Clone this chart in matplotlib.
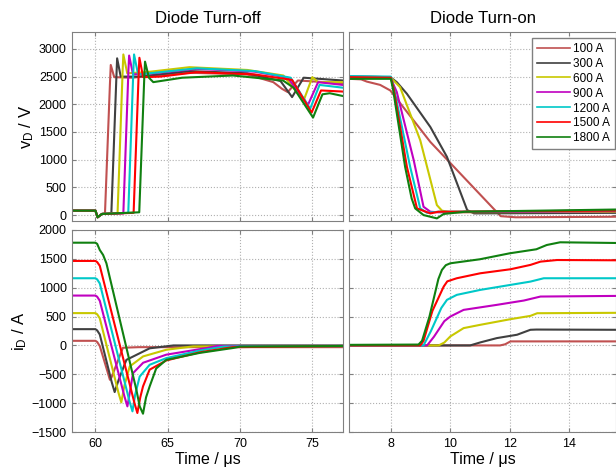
import matplotlib
matplotlib.use('Agg')
import matplotlib.pyplot as plt

'''Diode turn-off / turn-on waveforms for several load currents'''

plt.rcParams['font.family'] = ['Liberation Sans', 'DejaVu Sans']
plt.rcParams['mathtext.fontset'] = 'custom'
plt.rcParams['mathtext.rm'] = 'Liberation Sans'
plt.rcParams['mathtext.default'] = 'rm'

labels = ['100 A', '300 A', '600 A', '900 A', '1200 A', '1500 A', '1800 A']
colors = ['#c05050', '#404040', '#c8c800', '#c000c0', '#00c8c8', '#ff0000', '#108010']

# ---- turn-off, diode voltage (us, V)
voff_t = [
    [58.4, 60.0, 60.15, 60.45, 60.66, 61.0, 61.06, 61.3, 62.5, 66.5, 70.5, 72.3, 72.9, 73.3, 74.0, 77.1],
    [58.4, 60.0, 60.15, 60.45, 61.1, 61.45, 61.5, 61.75, 63.0, 66.5, 70.5, 72.8, 73.6, 74.4, 77.1],
    [58.4, 60.0, 60.15, 60.45, 61.53, 61.88, 61.93, 62.2, 63.5, 66.5, 70.5, 73.0, 74.4, 75.0, 75.4, 77.1],
    [58.4, 60.0, 60.15, 60.45, 61.93, 62.28, 62.33, 62.6, 64.0, 67.0, 71.0, 73.3, 74.7, 75.4, 77.1],
    [58.4, 60.0, 60.15, 60.45, 62.27, 62.62, 62.67, 62.95, 64.5, 67.0, 71.0, 73.5, 74.85, 75.5, 77.1],
    [58.4, 60.0, 60.15, 60.45, 62.64, 62.99, 63.04, 63.3, 64.5, 67.0, 71.0, 73.6, 74.95, 75.6, 77.1],
    [58.4, 60.0, 60.15, 60.45, 63.03, 63.38, 63.43, 63.7, 64.0, 66.0, 69.5, 72.97, 73.7, 75.05, 75.7, 76.2, 77.1],
]
voff_v = [
    [80, 80, -40, 20, 30, 2350, 2710, 2490, 2480, 2570, 2540, 2400, 2280, 2220, 2430, 2380],
    [80, 80, -40, 20, 30, 2500, 2830, 2500, 2500, 2600, 2560, 2420, 2130, 2480, 2430],
    [80, 80, -40, 20, 30, 2600, 2900, 2560, 2580, 2670, 2620, 2520, 2070, 2490, 2400, 2400],
    [80, 80, -40, 20, 30, 2600, 2880, 2540, 2560, 2640, 2590, 2480, 1990, 2400, 2350],
    [80, 80, -40, 20, 40, 2600, 2900, 2540, 2580, 2650, 2600, 2480, 1920, 2350, 2300],
    [80, 80, -40, 20, 40, 2550, 2840, 2490, 2500, 2580, 2540, 2440, 1850, 2250, 2230],
    [80, 80, -40, 20, 50, 2500, 2770, 2480, 2400, 2480, 2520, 2430, 2300, 1760, 2180, 2200, 2150],
]

# ---- turn-on, diode voltage (us, V)
von_t = [
    [6.6, 7.0, 7.19, 7.64, 7.98, 9.33, 11.45, 11.7, 12.2, 15.6],
    [6.6, 7.98, 8.2, 8.54, 9.33, 9.89, 10.57, 10.8, 15.6],
    [6.6, 7.98, 8.31, 8.99, 9.55, 9.72, 10.0, 15.6],
    [6.6, 7.98, 8.2, 8.77, 9.1, 9.33, 9.6, 15.6],
    [6.6, 8.0, 8.1, 8.65, 8.99, 9.22, 9.6, 15.6],
    [6.6, 8.0, 8.09, 8.54, 8.88, 9.33, 9.6, 15.6],
    [6.6, 8.0, 8.08, 8.48, 8.7, 8.82, 9.1, 9.55, 9.78, 10.5, 15.6],
]
von_v = [
    [2460, 2450, 2410, 2350, 2250, 1320, 120, -20, -40, -30],
    [2500, 2490, 2400, 2190, 1590, 1050, 90, 30, 40],
    [2500, 2490, 2310, 1350, 180, 80, 50, 60],
    [2500, 2490, 2220, 990, 150, 60, 50, 70],
    [2510, 2500, 2300, 870, 120, 40, 60, 80],
    [2490, 2480, 2300, 870, 120, 30, 60, 80],
    [2460, 2460, 2250, 870, 300, 120, 0, -60, 20, 60, 100],
]

# ---- turn-off, diode current (us, A)
ioff_t = [
    [58.4, 60.0, 60.12, 60.3, 60.8, 61.0, 61.1, 61.9, 63.0, 77.1],
    [58.4, 60.0, 60.12, 60.3, 61.13, 61.33, 61.6, 62.14, 63.75, 65.4, 77.1],
    [58.4, 60.0, 60.12, 60.3, 61.59, 61.79, 62.0, 62.37, 63.3, 64.9, 66.75, 77.1],
    [58.4, 60.0, 60.12, 60.3, 62.01, 62.21, 62.4, 62.6, 63.3, 64.9, 67.7, 68.4, 77.1],
    [58.4, 60.0, 60.12, 60.3, 62.36, 62.56, 62.75, 63.06, 63.75, 64.9, 67.2, 68.9, 77.1],
    [58.4, 60.0, 60.12, 60.3, 62.7, 62.9, 63.1, 63.29, 63.75, 64.9, 67.2, 69.5, 77.1],
    [58.4, 60.0, 60.12, 60.3, 60.53, 60.76, 62.83, 63.06, 63.29, 63.5, 63.75, 64.2, 64.9, 67.2, 69.5, 70.0, 77.1],
]
ioff_i = [
    [80, 80, 60, -10, -425, -595, -560, -40, -30, -30],
    [282, 282, 260, 190, -640, -808, -600, -250, -50, 0, 0],
    [560, 560, 540, 470, -817, -987, -700, -364, -190, -75, -17, -10],
    [864, 864, 844, 774, -886, -1056, -780, -480, -300, -160, -45, -10, -10],
    [1164, 1164, 1144, 1074, -972, -1142, -850, -540, -335, -220, -90, -20, -10],
    [1464, 1464, 1444, 1380, -1000, -1171, -900, -710, -420, -260, -120, -30, -10],
    [1780, 1780, 1760, 1654, 1568, 1423, -767, -1055, -1183, -900, -710, -400, -250, -130, -45, -20, -10],
]

# ---- turn-on, diode current (us, A)
ion_t = [
    [6.6, 11.68, 11.85, 12.03, 15.6],
    [6.6, 10.67, 11.01, 11.57, 12.25, 12.7, 12.9, 15.6],
    [6.6, 9.61, 9.8, 10.0, 10.45, 11.01, 12.03, 12.7, 12.93, 15.6],
    [6.6, 9.22, 9.45, 9.8, 10.0, 10.45, 11.57, 12.48, 13.04, 15.6],
    [6.6, 9.1, 9.35, 9.7, 9.89, 10.22, 11.01, 12.03, 12.7, 13.15, 15.6],
    [6.6, 8.99, 9.1, 9.4, 9.78, 9.9, 10.22, 11.01, 12.03, 12.7, 13.04, 13.6, 15.6],
    [6.6, 8.93, 9.05, 9.3, 9.6, 9.72, 9.85, 10.0, 11.0, 12.0, 12.9, 13.25, 13.7, 15.6],
]
ion_i = [
    [0, 0, 20, 70, 70],
    [0, 0, 52, 127, 185, 271, 275, 271],
    [0, 0, 50, 155, 300, 357, 455, 512, 558, 565],
    [0, 0, 150, 420, 500, 616, 703, 778, 847, 858],
    [0, 0, 250, 650, 790, 876, 962, 1049, 1106, 1164, 1164],
    [0, 0, 80, 600, 1020, 1110, 1164, 1250, 1320, 1395, 1452, 1480, 1475],
    [10, 15, 80, 500, 1150, 1308, 1390, 1423, 1493, 1596, 1666, 1740, 1787, 1775],
]

W, H = 616, 473
fig = plt.figure(figsize=(W / 100, H / 100), dpi=100)

# axes placed in pixels: (left, top, right, bottom)
def px_axes(l, t, r, b):
    return fig.add_axes([l / W, 1 - b / H, (r - l) / W, (b - t) / H])

ax_voff = px_axes(72.3, 32.3, 342.7, 220.6)
ax_von = px_axes(349.3, 32.3, 616.5, 220.6)
ax_ioff = px_axes(72.3, 230, 342.7, 432)
ax_ion = px_axes(349.3, 230, 616.5, 432)


def style(ax):
    for s in ax.spines.values():
        s.set_color('#808080')
    ax.grid(True, linestyle=':', color='#b0b0b0', linewidth=0.8)
    ax.tick_params(direction='in', length=3, color='#808080', labelsize=9,
                   top=True, right=True, pad=4)


for k in range(len(labels)):
    ax_voff.plot(voff_t[k], voff_v[k], color=colors[k], lw=1.5)
    ax_von.plot(von_t[k], von_v[k], color=colors[k], lw=1.5, label=labels[k])
    ax_ioff.plot(ioff_t[k], ioff_i[k], color=colors[k], lw=1.5)
    ax_ion.plot(ion_t[k], ion_i[k], color=colors[k], lw=1.5)

for ax in (ax_voff, ax_ioff):
    ax.set_xlim(58.4, 77.1)
    ax.set_xticks([60, 65, 70, 75])
for ax in (ax_von, ax_ion):
    ax.set_xlim(6.6, 15.6)
    ax.set_xticks([8, 10, 12, 14])
for ax in (ax_voff, ax_von):
    ax.set_ylim(-100, 3300)
    ax.set_yticks(range(0, 3001, 500))
    ax.tick_params(labelbottom=False)
for ax in (ax_ioff, ax_ion):
    ax.set_ylim(-1500, 2000)
    ax.set_yticks(range(-1500, 2001, 500))
for ax in (ax_von, ax_ion):
    ax.tick_params(labelleft=False)

for ax in (ax_voff, ax_von, ax_ioff, ax_ion):
    style(ax)

ax_voff.set_title('Diode Turn-off', fontsize=12, pad=7)
ax_von.set_title('Diode Turn-on', fontsize=12, pad=7)
ax_voff.set_ylabel('v$_{D}$ / V', fontsize=12, labelpad=2)
ax_ioff.set_ylabel('i$_{D}$ / A', fontsize=12, labelpad=2)
ax_ioff.set_xlabel('Time / \u03bcs', fontsize=11.5, labelpad=2)
ax_ion.set_xlabel('Time / \u03bcs', fontsize=11.5, labelpad=2)

leg = ax_von.legend(loc='upper right', bbox_to_anchor=(615 / W, 1 - 38 / H),
                    bbox_transform=fig.transFigure, fontsize=8.5, fancybox=False,
                    framealpha=1, edgecolor='#808080', handlelength=2.8,
                    labelspacing=0.25, borderpad=0.4, handletextpad=0.3,
                    borderaxespad=0)
for line in leg.get_lines():
    line.set_linewidth(1.2)

fig.savefig('out.png', dpi=100)
